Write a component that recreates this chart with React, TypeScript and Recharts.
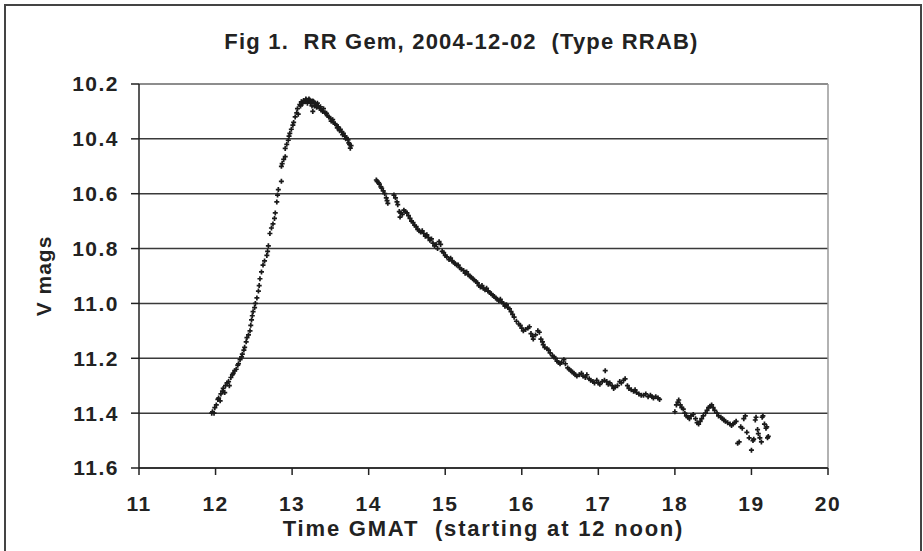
import {
  ScatterChart,
  Scatter,
  XAxis,
  YAxis,
  CartesianGrid,
  ReferenceLine,
} from 'recharts';

// light curve (time in hours GMAT, V magnitude)
const riseTimes = [
  11.95, 11.96, 11.98, 11.99, 12.01, 12.03, 12.04, 12.06, 12.07, 12.09, 12.1, 12.12, 12.13, 12.15,
  12.17, 12.18, 12.2, 12.22, 12.23, 12.25, 12.27, 12.29, 12.3, 12.32, 12.34, 12.35, 12.37, 12.38,
  12.4, 12.41, 12.43, 12.45, 12.46, 12.47, 12.48, 12.49, 12.51, 12.52, 12.54, 12.56, 12.57, 12.58,
  12.6, 12.62, 12.64, 12.67, 12.68, 12.69, 12.71, 12.73, 12.75, 12.77, 12.78, 12.8, 12.81, 12.82,
  12.86, 12.86, 12.87, 12.89, 12.91, 12.91, 12.93, 12.95, 12.96, 12.97, 12.99, 13.01, 13.02, 13.04,
  13.06, 13.07, 13.08, 13.1, 13.11,
];
const riseMags = [
  11.4, 11.395, 11.4, 11.38, 11.37, 11.35, 11.345, 11.355, 11.33, 11.32, 11.31, 11.325, 11.3, 11.29,
  11.285, 11.3, 11.27, 11.26, 11.255, 11.245, 11.24, 11.225, 11.22, 11.205, 11.195, 11.185, 11.17,
  11.16, 11.14, 11.125, 11.115, 11.1, 11.08, 11.06, 11.045, 11.03, 11.015, 11.0, 10.98, 10.955,
  10.935, 10.91, 10.885, 10.86, 10.845, 10.825, 10.81, 10.79, 10.745, 10.725, 10.71, 10.69, 10.67,
  10.63, 10.605, 10.585, 10.555, 10.5, 10.49, 10.475, 10.465, 10.435, 10.42, 10.405, 10.39, 10.38,
  10.365, 10.35, 10.34, 10.32, 10.305, 10.29, 10.31, 10.275, 10.28,
];

const peakTimes = [
  13.12, 13.14, 13.15, 13.17, 13.18, 13.19, 13.2, 13.21, 13.22, 13.23, 13.24, 13.25, 13.26, 13.27,
  13.27, 13.28, 13.29, 13.3, 13.31, 13.32, 13.33, 13.34, 13.36, 13.37, 13.38, 13.4, 13.41, 13.43,
  13.45, 13.46, 13.48, 13.5, 13.51, 13.53, 13.54, 13.56, 13.58, 13.59, 13.6, 13.62, 13.63, 13.65,
  13.66, 13.67, 13.69, 13.7, 13.71, 13.73, 13.74, 13.75, 13.76, 13.77,
];
const peakMags = [
  10.265, 10.27, 10.26, 10.265, 10.255, 10.258, 10.27, 10.26, 10.255, 10.258, 10.27, 10.265, 10.28,
  10.262, 10.3, 10.264, 10.28, 10.27, 10.275, 10.285, 10.27, 10.28, 10.289, 10.283, 10.295, 10.3,
  10.29, 10.305, 10.307, 10.315, 10.32, 10.325, 10.335, 10.33, 10.34, 10.345, 10.35, 10.36, 10.356,
  10.37, 10.365, 10.375, 10.385, 10.38, 10.39, 10.4, 10.395, 10.404, 10.415, 10.42, 10.434, 10.425,
];

const declineTimes = [
  14.1, 14.11, 14.13, 14.14, 14.16, 14.17, 14.19, 14.21, 14.23, 14.24, 14.25, 14.33, 14.35, 14.37,
  14.38, 14.4, 14.41, 14.42, 14.44, 14.46, 14.48, 14.5, 14.52, 14.54, 14.56, 14.58, 14.6, 14.62,
  14.64, 14.66, 14.68, 14.7, 14.72, 14.74, 14.76, 14.78, 14.8, 14.82, 14.84, 14.86, 14.88, 14.9,
  14.92, 14.94, 14.96, 14.98, 15.0, 15.02, 15.05, 15.07, 15.09, 15.11, 15.13, 15.15, 15.17, 15.19,
  15.21, 15.24, 15.26, 15.28, 15.3, 15.32, 15.34, 15.36, 15.38, 15.4, 15.42, 15.44, 15.46, 15.48,
  15.5, 15.52, 15.54, 15.56, 15.58, 15.6, 15.62, 15.64, 15.66, 15.68, 15.7, 15.72, 15.74, 15.76,
  15.78, 15.8, 15.82, 15.84, 15.86, 15.88, 15.9, 15.93, 15.96, 15.98, 16.0, 16.02, 16.05, 16.08,
  16.1, 16.12, 16.14, 16.15, 16.18, 16.21, 16.23, 16.25, 16.27, 16.28, 16.3, 16.33, 16.35, 16.37,
  16.4, 16.42, 16.44, 16.46, 16.48, 16.5, 16.52, 16.55, 16.57, 16.6, 16.62, 16.64, 16.66, 16.68,
  16.7, 16.72, 16.75, 16.78, 16.8, 16.83, 16.85, 16.88, 16.9, 16.93, 16.95, 16.98, 17.0, 17.02,
  17.05, 17.08, 17.09, 17.11, 17.13, 17.15, 17.18, 17.2, 17.22, 17.25, 17.28, 17.3, 17.33, 17.35,
  17.38, 17.4, 17.43, 17.46, 17.48, 17.5, 17.53, 17.56, 17.59, 17.62, 17.65, 17.68, 17.7, 17.72,
  17.75, 17.78, 17.8,
];
const declineMags = [
  10.55, 10.555, 10.56, 10.565, 10.575, 10.58, 10.59, 10.6, 10.615, 10.625, 10.635, 10.605, 10.615,
  10.63, 10.64, 10.665, 10.685, 10.67, 10.675, 10.66, 10.665, 10.67, 10.68, 10.69, 10.7, 10.705,
  10.715, 10.72, 10.73, 10.735, 10.74, 10.735, 10.745, 10.755, 10.75, 10.76, 10.77, 10.765, 10.78,
  10.79, 10.785, 10.8, 10.775, 10.785, 10.81, 10.815, 10.825, 10.83, 10.84, 10.835, 10.845, 10.85,
  10.855, 10.86, 10.86, 10.87, 10.875, 10.88, 10.89, 10.885, 10.895, 10.9, 10.905, 10.91, 10.915,
  10.92, 10.925, 10.935, 10.94, 10.935, 10.945, 10.95, 10.945, 10.955, 10.96, 10.965, 10.97, 10.975,
  10.98, 10.985, 10.99, 10.985, 10.995, 11.0, 11.01, 11.005, 11.015, 11.02, 11.03, 11.04, 11.05,
  11.065, 11.075, 11.08, 11.09, 11.1, 11.095, 11.09, 11.085, 11.11, 11.12, 11.13, 11.115, 11.1,
  11.105, 11.13, 11.14, 11.15, 11.16, 11.165, 11.17, 11.18, 11.19, 11.195, 11.2, 11.21, 11.215,
  11.22, 11.215, 11.205, 11.22, 11.235, 11.24, 11.245, 11.25, 11.255, 11.26, 11.265, 11.26, 11.255,
  11.265, 11.27, 11.26, 11.275, 11.28, 11.285, 11.29, 11.28, 11.29, 11.295, 11.285, 11.28, 11.245,
  11.285, 11.295, 11.29, 11.3, 11.31, 11.305, 11.3, 11.285, 11.29, 11.28, 11.275, 11.3, 11.31,
  11.315, 11.32, 11.315, 11.325, 11.33, 11.335, 11.335, 11.33, 11.34, 11.335, 11.34, 11.345, 11.34,
  11.345, 11.35,
];

const tailTimes = [
  18.0, 18.02, 18.04, 18.05, 18.07, 18.09, 18.11, 18.13, 18.15, 18.17, 18.19, 18.21, 18.24, 18.27,
  18.29, 18.31, 18.33, 18.35, 18.37, 18.4, 18.42, 18.44, 18.46, 18.48, 18.5, 18.52, 18.55, 18.57,
  18.6, 18.62, 18.64, 18.66, 18.69, 18.72, 18.74, 18.76, 18.78, 18.8, 18.82, 18.84, 18.86, 18.88,
  18.9, 18.92, 18.94, 18.97, 19.0, 19.02, 19.03, 19.05, 19.06, 19.08, 19.09, 19.11, 19.13, 19.14,
  19.15, 19.17, 19.19, 19.2, 19.21, 19.22,
];
const tailMags = [
  11.395, 11.37, 11.36, 11.352, 11.37, 11.38, 11.385, 11.4, 11.41, 11.415, 11.42, 11.41, 11.405,
  11.42, 11.435, 11.44, 11.43, 11.42, 11.41, 11.4, 11.39, 11.38, 11.375, 11.37, 11.38, 11.39, 11.4,
  11.41, 11.415, 11.42, 11.425, 11.43, 11.435, 11.44, 11.445, 11.44, 11.435, 11.43, 11.51, 11.505,
  11.45, 11.455, 11.42, 11.41, 11.47, 11.49, 11.535, 11.5, 11.495, 11.425, 11.415, 11.46, 11.475,
  11.49, 11.505, 11.415, 11.41, 11.44, 11.455, 11.45, 11.49, 11.485,
];

const xTicks = [11, 12, 13, 14, 15, 16, 17, 18, 19, 20];
const yTicks = [10.2, 10.4, 10.6, 10.8, 11.0, 11.2, 11.4, 11.6];

const toPoints = (times: number[], mags: number[]) =>
  times.map((t, i) => ({ t, m: mags[i] }));

const points = [
  ...toPoints(riseTimes, riseMags),
  ...toPoints(peakTimes, peakMags),
  ...toPoints(declineTimes, declineMags),
  ...toPoints(tailTimes, tailMags),
];

const FONT = '"Liberation Sans", Arial, sans-serif';
const INK = '#222';

const PlusMark = (props: any) => {
  const { cx, cy } = props;
  if (cx == null || cy == null) return null;
  return (
    <path
      d={`M${cx - 2.5},${cy}H${cx + 2.5}M${cx},${cy - 2.5}V${cy + 2.5}`}
      stroke='#1a1a1a'
      strokeWidth={1.7}
    />
  );
};

const tickStyle = {
  fontSize: 21,
  fontWeight: 'bold',
  fill: INK,
  fontFamily: FONT,
  letterSpacing: 1.5,
};

export default function App() {
  return (
    <div
      style={{
        position: 'absolute',
        left: 0,
        top: 0,
        width: 923,
        height: 551,
        background: '#fff',
        overflow: 'hidden',
        fontFamily: FONT,
      }}
    >
      <div
        style={{
          position: 'absolute',
          left: 4,
          top: 4,
          width: 918,
          height: 580,
          boxSizing: 'border-box',
          border: '2px solid #444',
        }}
      />
      <div
        style={{
          position: 'absolute',
          left: 0,
          width: 923,
          top: 29,
          textAlign: 'center',
          fontSize: 22,
          letterSpacing: 1.2,
          fontWeight: 'bold',
          color: INK,
          whiteSpace: 'pre',
        }}
      >
        {'Fig 1.  RR Gem, 2004-12-02  (Type RRAB)'}
      </div>
      <div
        style={{
          position: 'absolute',
          left: 44,
          top: 276,
          transform: 'translate(-50%, -50%) rotate(-90deg)',
          fontSize: 21,
          letterSpacing: 1,
          fontWeight: 'bold',
          color: INK,
          whiteSpace: 'nowrap',
        }}
      >
        V mags
      </div>
      <div
        style={{
          position: 'absolute',
          left: 139,
          width: 689,
          top: 516,
          textAlign: 'center',
          fontSize: 22,
          letterSpacing: 1.8,
          fontWeight: 'bold',
          color: INK,
          whiteSpace: 'pre',
        }}
      >
        {'Time GMAT  (starting at 12 noon)'}
      </div>
      <ScatterChart
        width={923}
        height={551}
        margin={{ top: 84, right: 95, bottom: 43, left: 0 }}
        style={{ position: 'absolute', left: 0, top: 0 }}
      >
        <CartesianGrid vertical={false} stroke='#3a3a3a' strokeWidth={1.5} />
        <XAxis
          type='number'
          dataKey='t'
          domain={[11, 20]}
          ticks={xTicks}
          height={40}
          tickSize={7}
          tickMargin={21}
          stroke={INK}
          strokeWidth={1.5}
          tick={tickStyle}
        />
        <YAxis
          type='number'
          dataKey='m'
          domain={[10.2, 11.6]}
          reversed
          ticks={yTicks}
          width={139}
          tickSize={8}
          tickMargin={12}
          stroke={INK}
          strokeWidth={1.5}
          tickFormatter={(v: number) => v.toFixed(1)}
          tick={tickStyle}
        />
        <ReferenceLine y={10.2} stroke='#999' strokeWidth={1.5} />
        <ReferenceLine x={20} stroke='#999' strokeWidth={1.5} />
        <Scatter data={points} shape={PlusMark} isAnimationActive={false} />
      </ScatterChart>
    </div>
  );
}
